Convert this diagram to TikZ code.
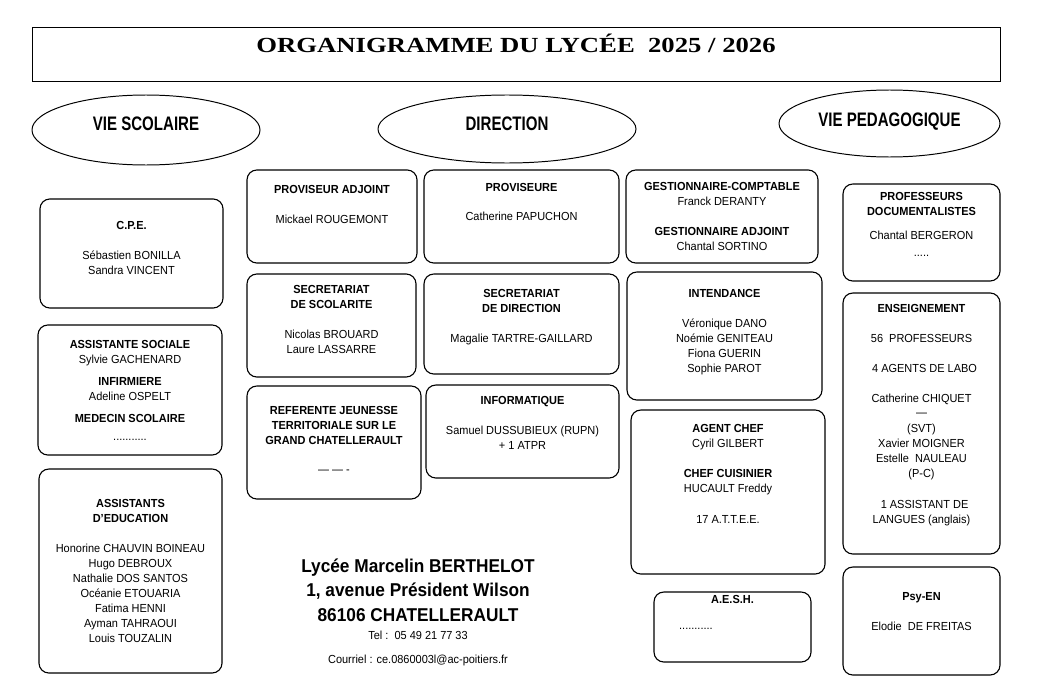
\documentclass[tikz,border=0pt]{standalone}
\usepackage{fontspec}
\setmainfont[FakeStretch=0.94]{Liberation Sans}
\newfontfamily\headfont[FakeStretch=0.77]{Liberation Sans}
\newfontfamily\titlefont[FakeStretch=1.24]{Liberation Serif}
\newfontfamily\addrfont[FakeStretch=0.93]{Liberation Sans}
\usetikzlibrary{shapes.geometric, positioning}
\tikzset{
  orgbox/.style={
    rectangle, rounded corners=7pt, draw=black, line width=0.8pt, fill=white,
    align=center, inner sep=2pt,
    font=\fontsize{8.3}{10.7}\selectfont
  },
  pole/.style={
    ellipse, draw=black, line width=0.7pt, inner sep=1pt,
    font=\headfont\fontsize{13.9}{16}\selectfont\bfseries
  },
  titlebox/.style={
    rectangle, draw=black, line width=0.7pt,
    font=\titlefont\fontsize{15.3}{18}\selectfont\bfseries
  },
  addrtext/.style={
    align=center, inner sep=2pt,
    font=\addrfont\fontsize{13.2}{17.4}\selectfont\bfseries
  },
  contact/.style={
    align=center, inner sep=2pt,
    font=\fontsize{8.3}{17}\selectfont
  },
  boxsize/.style 2 args={minimum width=#1*0.025cm, minimum height=#2*0.025cm},
  pushup/.style={text depth=#1*0.025cm},
}

\begin{document}
\begin{tikzpicture}[x=0.025cm, y=-0.025cm]
  \useasboundingbox (0,0) rectangle (1037,690);

  \node (titre) [titlebox, boxsize={968}{54}, pushup=21] at (516,54) {ORGANIGRAMME DU LYCÉE\ \ 2025 / 2026};

  \node (viesco) [pole, boxsize={228}{70}, pushup=12] at (146,130)   {VIE SCOLAIRE};
  \node (dir)    [pole, boxsize={258}{68}, pushup=10] at (507,129)   {DIRECTION};
  \node (viepeda)[pole, boxsize={221}{67}, pushup=7]  at (889.5,123.5) {VIE PEDAGOGIQUE};

  % vie scolaire
  \node (cpe)    [orgbox, boxsize={183}{109}, pushup=11] at (131.5,253.5)
    {\textbf{C.P.E.}\\[11pt] Sébastien BONILLA\\ Sandra VINCENT};
  \node (social) [orgbox, boxsize={184}{130}] at (130,390)
    {\textbf{ASSISTANTE SOCIALE}\\ Sylvie GACHENARD\\[5pt] \textbf{INFIRMIERE}\\ Adeline OSPELT\\[5pt]
     \textbf{MEDECIN SCOLAIRE}\\[2pt] ...........};
  \node (aed)    [orgbox, boxsize={183}{204}] at (130.5,571)
    {\textbf{ASSISTANTS}\\ \textbf{D'EDUCATION}\\[11pt] Honorine CHAUVIN BOINEAU\\ Hugo DEBROUX\\
     Nathalie DOS SANTOS\\ Océanie ETOUARIA\\ Fatima HENNI\\ Ayman TAHRAOUI\\ Louis TOUZALIN};

  % direction
  \node (adjoint)   [orgbox, boxsize={170}{93}, pushup=24] at (332,216.5)
    {\textbf{PROVISEUR ADJOINT}\\[11pt] Mickael ROUGEMONT};
  \node (scolarite) [orgbox, boxsize={169}{103}, pushup=12] at (331.5,325.5)
    {\textbf{SECRETARIAT}\\ \textbf{DE SCOLARITE}\\[11pt] Nicolas BROUARD\\ Laure LASSARRE};
  \node (referente) [orgbox, boxsize={174}{113}, pushup=5] at (334,442.5)
    {\textbf{REFERENTE JEUNESSE}\\ \textbf{TERRITORIALE SUR LE}\\ \textbf{GRAND CHATELLERAULT}\\[10pt] — — -};
  \node (proviseure)[orgbox, boxsize={195}{93}, pushup=29] at (521.5,216.5)
    {\textbf{PROVISEURE}\\[10.5pt] Catherine PAPUCHON};
  \node (secdir)    [orgbox, boxsize={195}{100}, pushup=17] at (521.5,324)
    {\textbf{SECRETARIAT}\\ \textbf{DE DIRECTION}\\[10.5pt] Magalie TARTRE-GAILLARD};
  \node (info)      [orgbox, boxsize={193}{93}, pushup=17] at (522.5,431.5)
    {\textbf{INFORMATIQUE}\\[11pt] Samuel DUSSUBIEUX (RUPN)\\ + 1 ATPR};

  \node (gestion)   [orgbox, boxsize={192}{93}] at (722,216.5)
    {\textbf{GESTIONNAIRE-COMPTABLE}\\ Franck DERANTY\\[10.5pt] \textbf{GESTIONNAIRE ADJOINT}\\ Chantal SORTINO};
  \node (intendance)[orgbox, boxsize={195}{128}, pushup=10] at (724.5,336)
    {\textbf{INTENDANCE}\\[11pt] Véronique DANO\\ Noémie GENITEAU\\ Fiona GUERIN\\ Sophie PAROT};
  \node (agentchef) [orgbox, boxsize={194}{164}, pushup=36] at (728,492)
    {\textbf{AGENT CHEF}\\ Cyril GILBERT\\[10.5pt] \textbf{CHEF CUISINIER}\\ HUCAULT Freddy\\[12pt] 17 A.T.T.E.E.};
  \node (aesh)      [orgbox, boxsize={157}{70}, pushup=30, inner ysep=1pt] at (732.5,627)
    {\textbf{A.E.S.H.}\\[7.8pt] ...........\hspace*{52pt}};

  % vie pedagogique
  \node (docs)      [orgbox, boxsize={157}{97}, pushup=17] at (921.5,232.5)
    {\textbf{PROFESSEURS}\\ \textbf{DOCUMENTALISTES}\\[6.4pt] Chantal BERGERON\\[1.4pt] .....};
  \node (enseign)   [orgbox, boxsize={157}{261}, pushup=20] at (921.5,423.5)
    {\textbf{ENSEIGNEMENT}\\[10.7pt] 56\ \ PROFESSEURS\\[10.7pt] \ \ 4 AGENTS DE LABO\\[11pt]
     Catherine CHIQUET\\[-0.7pt] —\\[0.7pt] (SVT)\\ Xavier MOIGNER\\ Estelle\ \ NAULEAU\\ (P-C)\\[10.7pt]
     \ \ 1 ASSISTANT DE\\ LANGUES (anglais)};
  \node (psyen)     [orgbox, boxsize={157}{108}, pushup=19] at (921.5,621)
    {\textbf{Psy-EN}\\[11pt] Elodie\ \ DE FREITAS};

  % adresse
  \node (addr) [addrtext] at (418,590)
    {Lycée Marcelin BERTHELOT\\ 1, avenue Président Wilson\\ 86106 CHATELLERAULT};
  \node (tel) [contact, below=2.4pt of addr]
    {Tel :\ \ 05 49 21 77 33\\ Courriel : ce.0860003l@ac-poitiers.fr};
\end{tikzpicture}
\end{document}
